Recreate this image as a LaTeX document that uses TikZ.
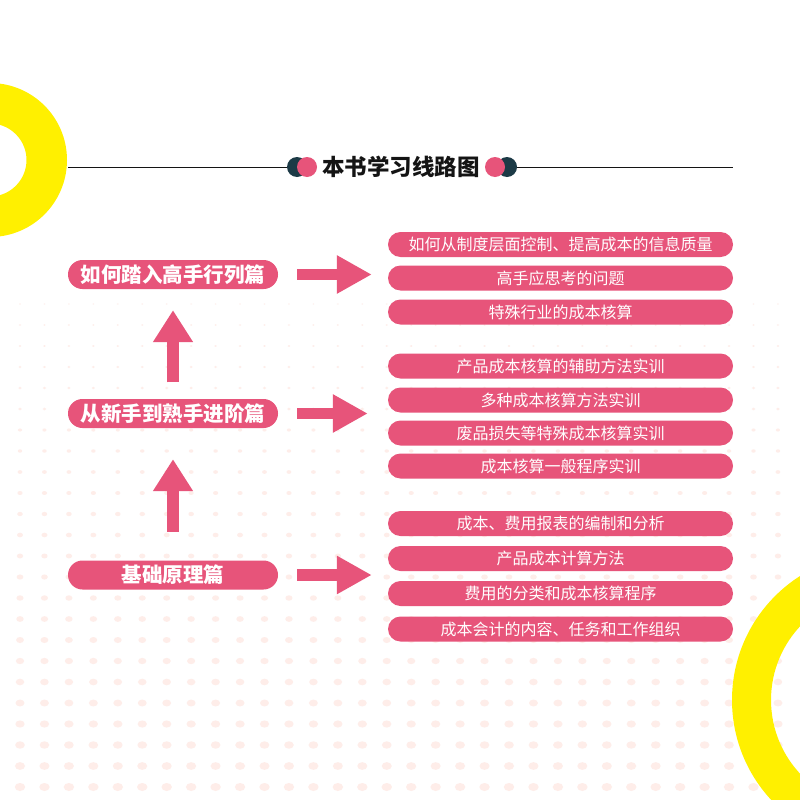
\documentclass[tikz,border=0pt]{standalone}
\usepackage{fontspec}
\setmainfont{Noto Sans CJK SC}
\usetikzlibrary{arrows.meta}
\definecolor{pinkc}{RGB}{231,84,122}
\definecolor{yellowc}{RGB}{255,240,0}
\definecolor{darkc}{RGB}{28,58,70}
\definecolor{dotc}{RGB}{254,237,233}
\definecolor{titlec}{RGB}{20,20,20}
\tikzset{
  lbox/.style={fill=pinkc, rounded corners=14.5pt, minimum width=210pt, minimum height=29pt, inner sep=0pt, text=white, font=\bfseries\fontsize{20.5}{24}\selectfont},
  rbox/.style={fill=pinkc, rounded corners=12.5pt, minimum width=345pt, minimum height=25pt, inner sep=0pt, text=white, font=\fontsize{16}{19}\selectfont},
  uparrow/.style={draw=pinkc, line width=12pt, -{Triangle[width=38pt,length=32pt]}},
  rarrow/.style={draw=pinkc, line width=11.5pt, -{Triangle[width=36pt,length=35pt]}},
  dotdark/.style={circle, fill=darkc, minimum size=20pt, inner sep=0pt},
  dotpink/.style={circle, fill=pinkc, minimum size=20pt, inner sep=0pt},
  titleline/.style={draw=titlec, line width=1pt},
}
\begin{document}
\begin{tikzpicture}[x=1pt,y=-1pt]
\useasboundingbox (0,0) rectangle (800,800);
\clip (0,0) rectangle (800,800);
\fill[white] (0,0) rectangle (800,800);
% background dots
\foreach \j in {0,...,23}{
  \pgfmathsetmacro\ry{0.7+3.3*\j/23}
  \pgfmathsetmacro\rx{0.9+4.3*\j/23}
  \foreach \i in {0,...,31}{
    \fill[dotc] (20+24.45*\i, 304+21*\j) ellipse[x radius=\rx pt, y radius=\ry pt];
  }
}
% yellow rings
\fill[yellowc, even odd rule] (-10,160) circle[radius=77pt] (-10,160) circle[radius=36.5pt];
\fill[yellowc, even odd rule] (879,700) circle[radius=147pt] (879,700) circle[radius=108pt];
% title
\node[dotdark] (dL) at (297,167) {};
\node[dotpink] (pL) at (307,167) {};
\node[dotdark] (dR) at (507,167) {};
\node[dotpink] (pR) at (495,167) {};
\node[text=titlec, font=\bfseries\fontsize{22.5}{26}\selectfont] (title) at (401,167) {本书学习线路图};
\coordinate (lineL) at (68,167);
\coordinate (lineR) at (733,167);
\draw[titleline] (lineL) -- (dL.west);
\draw[titleline] (dR.east) -- (lineR);
% left column
\node[lbox] (L1) at (173,274.5) {如何踏入高手行列篇};
\node[lbox] (L2) at (173,413.5) {从新手到熟手进阶篇};
\node[lbox] (L3) at (173,575) {基础原理篇};
% right column
\node[rbox] (R11) at (560.5,244.5) {如何从制度层面控制、提高成本的信息质量};
\node[rbox] (R12) at (560.5,278) {高手应思考的问题};
\node[rbox] (R13) at (560.5,312) {特殊行业的成本核算};
\node[rbox] (R21) at (560.5,366) {产品成本核算的辅助方法实训};
\node[rbox] (R22) at (560.5,400) {多种成本核算方法实训};
\node[rbox] (R23) at (560.5,433) {废品损失等特殊成本核算实训};
\node[rbox] (R24) at (560.5,466) {成本核算一般程序实训};
\node[rbox] (R31) at (560.5,523.5) {成本、费用报表的编制和分析};
\node[rbox] (R32) at (560.5,558.5) {产品成本计算方法};
\node[rbox] (R33) at (560.5,593.5) {费用的分类和成本核算程序};
\node[rbox] (R34) at (560.5,629) {成本会计的内容、任务和工作组织};
% arrows
\draw[uparrow, shorten <=28.5pt, shorten >=31pt] (L3.north) -- (L2.south);
\draw[uparrow, shorten <=16.5pt, shorten >=21pt] (L2.north) -- (L1.south);
\draw[rarrow, shorten <=19pt, shorten >=16pt] (L1.east) -- (L1.east -| R12.west);
\draw[rarrow, shorten <=19pt, shorten >=20pt] (L2.east) -- (L2.east -| R22.west);
\draw[rarrow, shorten <=19pt, shorten >=16pt] (L3.east) -- (L3.east -| R32.west);
\end{tikzpicture}
\end{document}
